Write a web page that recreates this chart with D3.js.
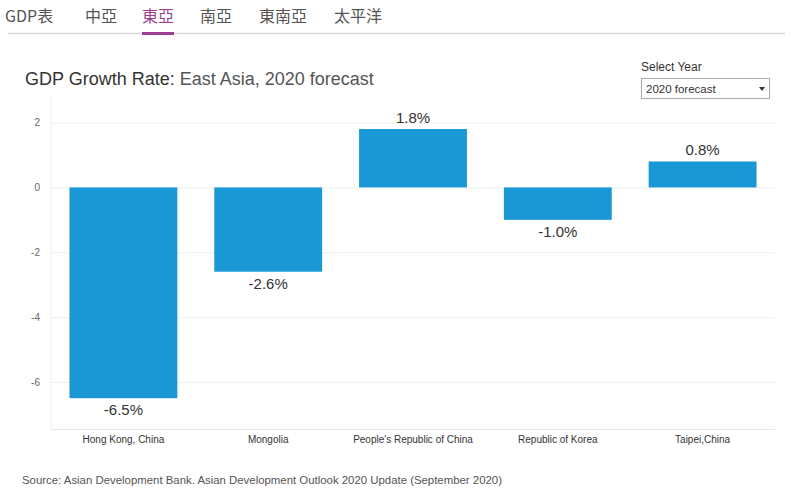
<!DOCTYPE html>
<html><head><meta charset="utf-8">
<script src="https://cdn.jsdelivr.net/npm/d3@7"></script>
<style>body{margin:0;background:#fff;font-family:Arial,"Liberation Sans",sans-serif}</style>
</head><body><svg id="c" width="800" height="492"></svg>
<script>
const tabs = ["GDP表","中亞","東亞","南亞","東南亞","太平洋"];
const activeTab = "東亞";
const categories = ["Hong Kong, China","Mongolia","People's Republic of China","Republic of Korea","Taipei,China"];
const values = [-6.5,-2.6,1.8,-1.0,0.8];
const yTicks = [2,0,-2,-4,-6];

const svg = d3.select("#c");
const cjk = "'Noto Sans CJK TC','Noto Sans',sans-serif";
const hy = s => s.replace("\u2212","-");

// tabs
const tabX = [5,85,142,200,259,334];
svg.append("line").attr("x1",8).attr("x2",785).attr("y1",33.5).attr("y2",33.5).attr("stroke","#d6d6d6").attr("stroke-width",1.5);
tabs.forEach((t,i)=>{
  const tx = svg.append("text").attr("x",tabX[i]).attr("y",22).attr("font-family",cjk)
    .attr("font-size",16).attr("fill", t===activeTab?"#9b3f8e":"#555").text(t);
  if(t===activeTab){
    const w = tx.node().getComputedTextLength();
    svg.append("rect").attr("x",tabX[i]).attr("y",32).attr("width",w).attr("height",3).attr("fill","#9b3f8e");
  }
});

// title
const title = svg.append("text").attr("x",25).attr("y",85).attr("font-size",18);
title.append("tspan").attr("fill","#333").text("GDP Growth Rate: ");
title.append("tspan").attr("fill","#555").text("East Asia, 2020 forecast");

// selector
svg.append("text").attr("x",641).attr("y",71).attr("font-size",12).attr("fill","#333").text("Select Year");
svg.append("rect").attr("x",641.5).attr("y",78.5).attr("width",128).attr("height",20).attr("fill","#fff").attr("stroke","#aaa");
svg.append("text").attr("x",646).attr("y",93).attr("font-size",11.5).attr("fill","#333").text("2020 forecast");
svg.append("path").attr("d","M759,87 L765,87 L762,91 Z").attr("fill","#333");

// plot
const x = d3.scaleBand().domain(categories).range([51,775]).paddingInner(0.255).paddingOuter(0.1275);
const y = d3.scaleLinear().domain([-7.45,2.85]).range([429,95]);

svg.append("line").attr("x1",51).attr("x2",51).attr("y1",95).attr("y2",429).attr("stroke","#eee");
svg.append("line").attr("x1",51).attr("x2",775).attr("y1",429.5).attr("y2",429.5).attr("stroke","#e6e6e6");

const ax = svg.append("g").attr("transform","translate(51,0)")
  .call(d3.axisLeft(y).tickValues(yTicks).tickSize(-724).tickPadding(11).tickFormat(d=>hy(d3.format("d")(d))));
ax.select(".domain").remove();
ax.selectAll(".tick line").attr("stroke","#eee");
ax.selectAll(".tick text").attr("fill","#666").attr("font-size",10).attr("font-family","Arial,'Liberation Sans',sans-serif");

svg.selectAll("rect.bar").data(values).join("rect").attr("class","bar")
  .attr("x",(d,i)=>x(categories[i])).attr("width",x.bandwidth())
  .attr("y",d=>y(Math.max(0,d))).attr("height",d=>Math.abs(y(d)-y(0)))
  .attr("fill","#1a98d5");

svg.selectAll("text.val").data(values).join("text").attr("class","val")
  .attr("x",(d,i)=>x(categories[i])+x.bandwidth()/2)
  .attr("y",d=> d>=0 ? y(d)-6 : y(d)+17)
  .attr("text-anchor","middle").attr("font-size",15).attr("fill","#333")
  .text(d=>hy(d3.format(".1f")(d))+"%");

const xa = svg.append("g").attr("transform","translate(0,429)")
  .call(d3.axisBottom(x).tickSize(0).tickPadding(7));
xa.select(".domain").remove();
xa.selectAll("text").attr("font-size",10).attr("fill","#333").attr("font-family","Arial,'Liberation Sans',sans-serif");

svg.append("text").attr("x",22).attr("y",484).attr("font-size",11.4).attr("fill","#555")
  .text("Source: Asian Development Bank. Asian Development Outlook 2020 Update (September 2020)");
</script></body></html>
